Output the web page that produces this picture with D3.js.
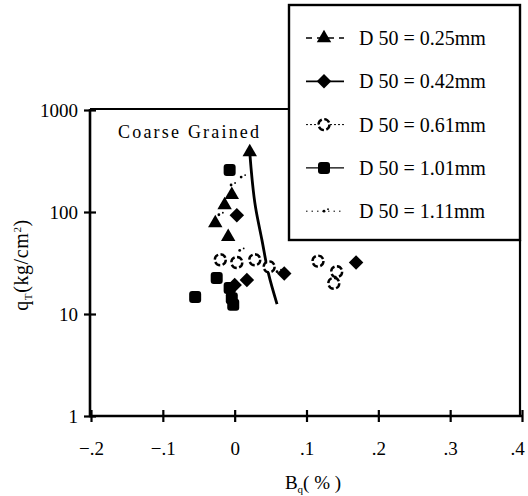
<!DOCTYPE html>
<html><head><meta charset="utf-8">
<script src="https://cdn.jsdelivr.net/npm/d3@7"></script>
<style>
body{margin:0;background:#fff;}
svg{display:block;font-family:"Liberation Serif","DejaVu Serif",serif;}
</style></head>
<body><svg id="c" width="528" height="496"></svg>
<script>
// ---- data ----
const xTicks = [-0.2, -0.1, 0, 0.1, 0.2, 0.3, 0.4];
const yTicks = [1, 10, 100, 1000];
const legendLabels = ["D 50 = 0.25mm", "D 50 = 0.42mm", "D 50 = 0.61mm", "D 50 = 1.01mm", "D 50 = 1.11mm"];
const boundaryB = [0.021, 0.029, 0.038, 0.047, 0.059];
const boundaryQ = [387, 112, 53, 25, 12.5];
const s025B = [0.021, -0.027, -0.014, -0.009, -0.004];
const s025Q = [387, 78, 117, 57, 147];
const s042B = [0.003, 0.017, 0.069, 0.169, 0.000];
const s042Q = [93, 21.5, 25, 32, 19.2];
const s061B = [-0.020, 0.028, 0.003, 0.048, 0.116, 0.142, 0.138];
const s061Q = [34, 34, 32, 29, 33, 26, 20];
const s101B = [-0.007, -0.025, -0.055, -0.004, -0.002, -0.007];
const s101Q = [258, 22.5, 14.7, 14.3, 12.3, 18];
const s111B = [0.009, -0.005, -0.018, 0.007, 0.059, -0.022];
const s111Q = [220, 184, 117, 42, 26, 94];

const svg = d3.select("#c");
const x = d3.scaleLinear().domain([-0.2, 0.4]).range([91, 522]);
const y = d3.scaleLog().domain([1, 1000]).range([416, 110]);

// frame lines (top-left and right)
svg.append("line").attr("x1", 90).attr("x2", 289).attr("y1", 109).attr("y2", 109)
  .attr("stroke", "#000").attr("stroke-width", 2.2);
svg.append("line").attr("x1", 520).attr("x2", 520).attr("y1", 240).attr("y2", 416)
  .attr("stroke", "#000").attr("stroke-width", 2.2);

// axes
const fmtX = d => d === 0 ? "0" : (d < 0 ? "\u2212" : "") + d3.format(".1f")(Math.abs(d)).replace(/^0/, "");
const xa = svg.append("g").attr("transform", "translate(0,416)")
  .call(d3.axisBottom(x).tickValues(xTicks).tickFormat(fmtX).tickSize(6).tickPadding(20));
const ya = svg.append("g").attr("transform", "translate(90,0)")
  .call(d3.axisLeft(y).tickValues(yTicks).tickFormat(d3.format("d")).tickSize(6).tickPadding(6));
[xa, ya].forEach(g => {
  g.select(".domain").attr("stroke", "#000").attr("stroke-width", 2.6);
  g.selectAll(".tick text").attr("font-size", 19).attr("font-family", "Liberation Serif").attr("fill", "#000");
});
xa.selectAll(".tick line").attr("y1", -6).attr("y2", 6).attr("stroke-width", 2.2);
ya.selectAll(".tick line").attr("x1", -6).attr("x2", 6).attr("stroke-width", 2.2);
ya.select(".domain").attr("d", "M0,109V417");
xa.select(".domain").attr("d", "M89,0H522");
xa.selectAll(".tick text").filter(d => d === 0.4).attr("dx", -5);

// axis titles
const xt = svg.append("text").attr("x", 313).attr("y", 489).attr("text-anchor", "middle")
  .attr("font-size", 19);
xt.append("tspan").text("B");
xt.append("tspan").attr("font-size", 11).attr("dy", 4).text("q");
xt.append("tspan").attr("dy", -4).text("( % )");

const yt = svg.append("text").attr("transform", "translate(28,265) rotate(-90)")
  .attr("text-anchor", "middle").attr("font-size", 20).attr("letter-spacing", 0.6);
yt.append("tspan").text("q");
yt.append("tspan").attr("font-size", 11).attr("dy", 4).text("T");
yt.append("tspan").attr("dy", -4).text("(kg/cm");
yt.append("tspan").attr("font-size", 11).attr("dy", -7).text("2");
yt.append("tspan").attr("dy", 7).text(")");

svg.append("text").attr("x", 118).attr("y", 138).attr("font-size", 18)
  .attr("letter-spacing", 2.2).text("Coarse Grained");

// boundary curve
const line = d3.line().x(d => x(d[0])).y(d => y(d[1])).curve(d3.curveMonotoneY);
svg.append("path").datum(d3.zip(boundaryB, boundaryQ)).attr("d", line)
  .attr("fill", "none").attr("stroke", "#000").attr("stroke-width", 2.8);

// marker drawing
const sym = {
  tri: d3.symbol().type(d3.symbolTriangle).size(90),
  dia: d3.symbol().type(d3.symbolSquare).size(105),
};
function drawMarker(g, kind) {
  if (kind === "tri") g.append("path").attr("d", sym.tri()).attr("fill", "#000");
  else if (kind === "dia") g.append("path").attr("d", sym.dia()).attr("transform", "rotate(45)").attr("fill", "#000");
  else if (kind === "sq") g.append("rect").attr("x", -6).attr("y", -6).attr("width", 12).attr("height", 12)
    .attr("rx", 3).attr("fill", "#000");
  else if (kind === "circ") g.append("circle").attr("r", 5.5).attr("fill", "#fff").attr("stroke", "#000")
    .attr("stroke-width", 2.4).attr("stroke-dasharray", "6 2.5");
  else if (kind === "dot") {
    g.append("circle").attr("r", 1.4).attr("fill", "#000");
    g.append("circle").attr("cx", 4).attr("cy", -2).attr("r", 0.9).attr("fill", "#000");
  }
}
const series = [
  {B: s111B, Q: s111Q, kind: "dot"},
  {B: s025B, Q: s025Q, kind: "tri"},
  {B: s042B, Q: s042Q, kind: "dia"},
  {B: s101B, Q: s101Q, kind: "sq"},
  {B: s061B, Q: s061Q, kind: "circ"},
];
series.forEach(s => {
  d3.zip(s.B, s.Q).forEach(([b, q]) => {
    const g = svg.append("g").attr("transform", `translate(${x(b)},${y(q)})`);
    drawMarker(g, s.kind);
  });
});

// legend
svg.append("rect").attr("x", 289).attr("y", 5).attr("width", 231).attr("height", 235)
  .attr("fill", "#fff").attr("stroke", "#000").attr("stroke-width", 2.4);
const legKinds = ["tri", "dia", "circ", "sq", "dot"];
const legDash = ["6 5", null, "2 2", null, "1.5 4"];
const legW = [1.4, 1.8, 1, 1.2, 1];
legendLabels.forEach((lab, i) => {
  const cy = 38 + i * 43.3;
  const l = svg.append("line").attr("x1", 306).attr("x2", 344).attr("y1", cy).attr("y2", cy)
    .attr("stroke", "#000").attr("stroke-width", legW[i]);
  if (legDash[i]) l.attr("stroke-dasharray", legDash[i]);
  const g = svg.append("g").attr("transform", `translate(324,${cy})`);
  drawMarker(g, legKinds[i]);
  svg.append("text").attr("x", 359).attr("y", cy + 7).attr("font-size", 20).text(lab);
});
</script></body></html>
